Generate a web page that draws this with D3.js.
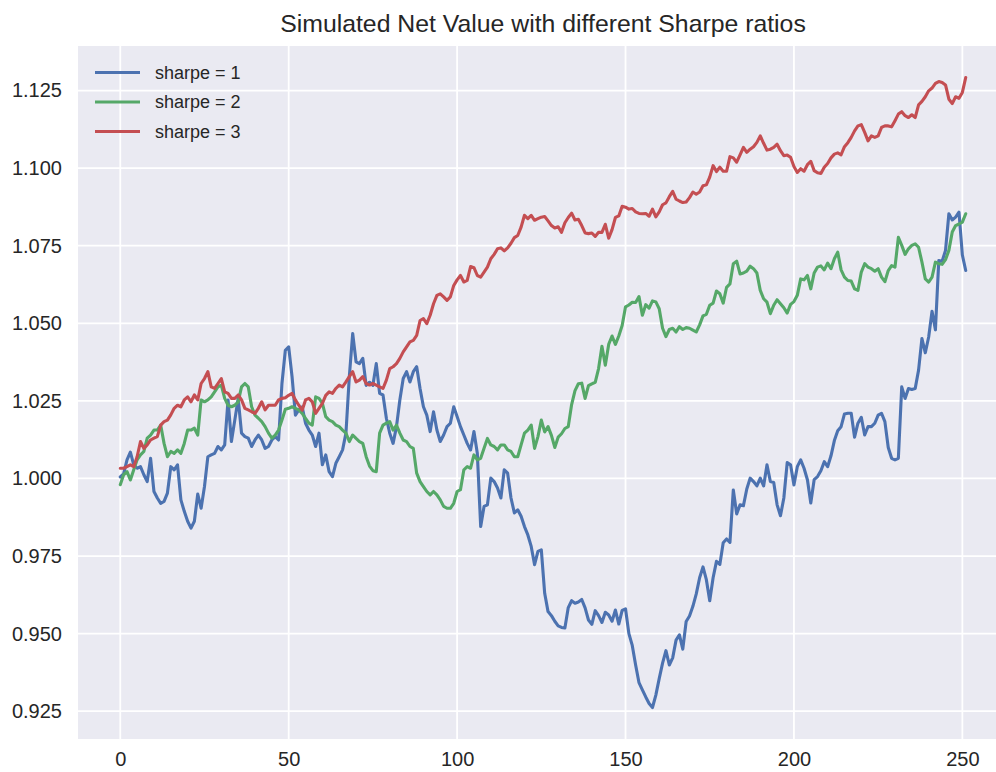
<!DOCTYPE html>
<html>
<head>
<meta charset="utf-8">
<script src="https://cdn.jsdelivr.net/npm/d3@7"></script>
<style>
  body { margin: 0; background: #fff; }
  text { font-family: 'Liberation Sans', Arial, sans-serif; fill: #262626; }
</style>
</head>
<body>
<div id="chart"></div>
<script>
// net value paths (index 0..251)
let sharpe1 = [
  1.0005, 1.0015, 1.0060, 1.0085, 1.0044, 1.0033, 1.0038, 1.0012, 0.9990, 1.0065,
  0.9958, 0.9937, 0.9920, 0.9926, 0.9953, 1.0038, 1.0028, 1.0044, 0.9931, 0.9894,
  0.9862, 0.9840, 0.9862, 0.9950, 0.9904, 0.9974, 1.0070, 1.0076, 1.0081, 1.0103,
  1.0092, 1.0108, 1.0253, 1.0119, 1.0188, 1.0258, 1.0146, 1.0135, 1.0130, 1.0103,
  1.0124, 1.0140, 1.0124, 1.0097, 1.0103, 1.0124, 1.0135, 1.0124, 1.0306, 1.0413,
  1.0424, 1.0328, 1.0204, 1.0221, 1.0231, 1.0178, 1.0156, 1.0140, 1.0103, 1.0146,
  1.0044, 1.0076, 1.0022, 1.0006, 1.0049, 1.0070, 1.0092, 1.0146, 1.0328, 1.0467,
  1.0376, 1.0370, 1.0387, 1.0300, 1.0310, 1.0300, 1.0370, 1.0274, 1.0269, 1.0194,
  1.0146, 1.0113, 1.0167, 1.0253, 1.0322, 1.0344, 1.0311, 1.0344, 1.0360, 1.0290,
  1.0231, 1.0204, 1.0151, 1.0215, 1.0156, 1.0119, 1.0140, 1.0167, 1.0178, 1.0231,
  1.0200, 1.0167, 1.0140, 1.0113, 1.0092, 1.0151, 1.0081, 0.9845, 0.9910, 0.9915,
  1.0001, 0.9990, 0.9969, 0.9937, 1.0028, 1.0017, 0.9937, 0.9889, 0.9899, 0.9878,
  0.9845, 0.9818, 0.9781, 0.9722, 0.9765, 0.9770, 0.9630, 0.9571, 0.9558, 0.9540,
  0.9525, 0.9520, 0.9518, 0.9584, 0.9606, 0.9598, 0.9602, 0.9610, 0.9583, 0.9544,
  0.9530, 0.9574, 0.9558, 0.9536, 0.9569, 0.9560, 0.9540, 0.9576, 0.9531, 0.9575,
  0.9580, 0.9500, 0.9462, 0.9399, 0.9342, 0.9319, 0.9296, 0.9275, 0.9262, 0.9302,
  0.9355, 0.9405, 0.9445, 0.9399, 0.9422, 0.9479, 0.9496, 0.9450, 0.9539, 0.9557,
  0.9588, 0.9628, 0.9680, 0.9715, 0.9674, 0.9606, 0.9680, 0.9733, 0.9723, 0.9793,
  0.9805, 0.9794, 0.9963, 0.9886, 0.9915, 0.9912, 0.9966, 1.0001, 0.9990, 0.9976,
  1.0001, 0.9976, 1.0044, 0.9990, 0.9987, 0.9915, 0.9880, 0.9937, 1.0051, 1.0044,
  0.9979, 1.0038, 1.0060, 1.0033, 0.9996, 0.9921, 0.9996, 1.0006, 1.0025, 1.0054,
  1.0038, 1.0073, 1.0122, 1.0154, 1.0167, 1.0208, 1.0210, 1.0210, 1.0133, 1.0178,
  1.0197, 1.0140, 1.0167, 1.0167, 1.0178, 1.0204, 1.0210, 1.0183, 1.0100, 1.0065,
  1.0060, 1.0065, 1.0295, 1.0258, 1.0290, 1.0287, 1.0290, 1.0349, 1.0451, 1.0405,
  1.0456, 1.0539, 1.0479, 1.0702, 1.0700, 1.0735, 1.0853, 1.0833, 1.0842, 1.0858,
  1.0720, 1.0670
]

let sharpe2 = [
  0.9980, 1.0012, 1.0022, 0.9995, 1.0028, 1.0060, 1.0076, 1.0087, 1.0130, 1.0140,
  1.0156, 1.0156, 1.0172, 1.0113, 1.0070, 1.0087, 1.0081, 1.0092, 1.0081, 1.0113,
  1.0156, 1.0156, 1.0162, 1.0140, 1.0253, 1.0247, 1.0253, 1.0263, 1.0279, 1.0295,
  1.0301, 1.0258, 1.0236, 1.0231, 1.0236, 1.0247, 1.0295, 1.0306, 1.0295, 1.0231,
  1.0204, 1.0194, 1.0183, 1.0167, 1.0146, 1.0130, 1.0140, 1.0156, 1.0188, 1.0223,
  1.0226, 1.0231, 1.0226, 1.0221, 1.0210, 1.0194, 1.0178, 1.0172, 1.0263, 1.0258,
  1.0242, 1.0199, 1.0188, 1.0183, 1.0172, 1.0167, 1.0156, 1.0146, 1.0119, 1.0140,
  1.0129, 1.0119, 1.0113, 1.0070, 1.0040, 1.0025, 1.0022, 1.0146, 1.0172, 1.0178,
  1.0183, 1.0156, 1.0172, 1.0146, 1.0124, 1.0119, 1.0103, 1.0097, 1.0017, 0.9990,
  0.9974, 0.9958, 0.9947, 0.9958, 0.9947, 0.9931, 0.9910, 0.9904, 0.9904, 0.9920,
  0.9958, 0.9964, 1.0028, 1.0038, 1.0033, 1.0076, 1.0060, 1.0065, 1.0097, 1.0129,
  1.0108, 1.0103, 1.0092, 1.0108, 1.0108, 1.0092, 1.0087, 1.0070, 1.0070, 1.0108,
  1.0146, 1.0156, 1.0172, 1.0097, 1.0135, 1.0188, 1.0150, 1.0167, 1.0139, 1.0100,
  1.0133, 1.0144, 1.0161, 1.0167, 1.0238, 1.0283, 1.0305, 1.0307, 1.0258, 1.0299,
  1.0305, 1.0310, 1.0354, 1.0426, 1.0365, 1.0432, 1.0459, 1.0432, 1.0459, 1.0493,
  1.0553, 1.0559, 1.0568, 1.0567, 1.0586, 1.0526, 1.0560, 1.0549, 1.0572, 1.0569,
  1.0547, 1.0484, 1.0457, 1.0480, 1.0484, 1.0472, 1.0489, 1.0480, 1.0486, 1.0484,
  1.0478, 1.0472, 1.0495, 1.0524, 1.0529, 1.0558, 1.0565, 1.0604, 1.0595, 1.0565,
  1.0616, 1.0627, 1.0692, 1.0700, 1.0659, 1.0662, 1.0668, 1.0684, 1.0676, 1.0662,
  1.0606, 1.0579, 1.0568, 1.0531, 1.0558, 1.0576, 1.0563, 1.0550, 1.0533, 1.0561,
  1.0570, 1.0590, 1.0643, 1.0640, 1.0654, 1.0611, 1.0662, 1.0681, 1.0685, 1.0672,
  1.0694, 1.0676, 1.0708, 1.0729, 1.0672, 1.0649, 1.0638, 1.0636, 1.0611, 1.0606,
  1.0665, 1.0692, 1.0681, 1.0676, 1.0668, 1.0676, 1.0649, 1.0634, 1.0670, 1.0686,
  1.0681, 1.0777, 1.0751, 1.0722, 1.0740, 1.0751, 1.0756, 1.0745, 1.0697, 1.0643,
  1.0633, 1.0649, 1.0697, 1.0692, 1.0690, 1.0705, 1.0735, 1.0794, 1.0815, 1.0820,
  1.0826, 1.0853
]

let sharpe3 = [
  1.0033, 1.0033, 1.0038, 1.0044, 1.0038, 1.0070, 1.0119, 1.0097, 1.0108, 1.0124,
  1.0130, 1.0135, 1.0172, 1.0183, 1.0188, 1.0205, 1.0226, 1.0236, 1.0231, 1.0253,
  1.0263, 1.0247, 1.0269, 1.0253, 1.0306, 1.0322, 1.0344, 1.0295, 1.0290, 1.0306,
  1.0322, 1.0279, 1.0274, 1.0258, 1.0258, 1.0269, 1.0253, 1.0226, 1.0221, 1.0215,
  1.0210, 1.0226, 1.0247, 1.0221, 1.0236, 1.0236, 1.0236, 1.0253, 1.0258, 1.0260,
  1.0268, 1.0274, 1.0253, 1.0236, 1.0220, 1.0253, 1.0258, 1.0247, 1.0210, 1.0226,
  1.0242, 1.0268, 1.0279, 1.0274, 1.0290, 1.0301, 1.0295, 1.0311, 1.0328, 1.0344,
  1.0311, 1.0317, 1.0328, 1.0306, 1.0301, 1.0306, 1.0301, 1.0295, 1.0290, 1.0317,
  1.0354, 1.0360, 1.0370, 1.0387, 1.0408, 1.0424, 1.0440, 1.0445, 1.0461, 1.0509,
  1.0515, 1.0499, 1.0526, 1.0563, 1.0590, 1.0595, 1.0585, 1.0574, 1.0585, 1.0622,
  1.0640, 1.0654, 1.0633, 1.0638, 1.0683, 1.0679, 1.0654, 1.0649, 1.0665, 1.0681,
  1.0708, 1.0722, 1.0740, 1.0743, 1.0733, 1.0743, 1.0758, 1.0776, 1.0783, 1.0810,
  1.0848, 1.0837, 1.0848, 1.0832, 1.0837, 1.0842, 1.0844, 1.0830, 1.0815, 1.0807,
  1.0811, 1.0793, 1.0824, 1.0841, 1.0855, 1.0833, 1.0835, 1.0815, 1.0791, 1.0789,
  1.0791, 1.0780, 1.0793, 1.0793, 1.0819, 1.0774, 1.0802, 1.0841, 1.0846, 1.0877,
  1.0874, 1.0868, 1.0870, 1.0859, 1.0854, 1.0853, 1.0854, 1.0845, 1.0868, 1.0843,
  1.0859, 1.0882, 1.0888, 1.0908, 1.0925, 1.0900, 1.0894, 1.0889, 1.0891, 1.0905,
  1.0923, 1.0916, 1.0923, 1.0943, 1.0946, 1.0971, 1.1008, 1.0989, 1.1003, 1.0990,
  1.0990, 1.1037, 1.1033, 1.1019, 1.1043, 1.1067, 1.1051, 1.1061, 1.1069, 1.1083,
  1.1104, 1.1080, 1.1058, 1.1061, 1.1067, 1.1077, 1.1056, 1.1040, 1.1042, 1.1035,
  1.1005, 1.0986, 1.0998, 1.0990, 1.1011, 1.1022, 1.0992, 1.0985, 1.0983, 1.1003,
  1.1015, 1.1033, 1.1045, 1.1049, 1.1043, 1.1069, 1.1082, 1.1099, 1.1120, 1.1136,
  1.1140, 1.1115, 1.1088, 1.1104, 1.1099, 1.1104, 1.1131, 1.1136, 1.1136, 1.1133,
  1.1153, 1.1174, 1.1182, 1.1169, 1.1163, 1.1172, 1.1163, 1.1204, 1.1215, 1.1230,
  1.1249, 1.1258, 1.1273, 1.1279, 1.1276, 1.1268, 1.1222, 1.1208, 1.1230, 1.1225,
  1.1244, 1.1292
]

let seriesNames = ['sharpe = 1', 'sharpe = 2', 'sharpe = 3']
let seriesColors = ['#4C72B0', '#55A868', '#C44E52']
let xTicks = [0, 50, 100, 150, 200, 250]
let yTicks = [0.925, 0.95, 0.975, 1.0, 1.025, 1.05, 1.075, 1.1, 1.125]
let title = 'Simulated Net Value with different Sharpe ratios'

let margin = { top: 46, left: 78, right: 0, bottom: 33 }
let width = 930
let height = 772 - margin.top - margin.bottom

let svg = d3
  .select('#chart')
  .append('svg')
  .attr('width', 996)
  .attr('height', 772)
  .style('display', 'block')
  .append('g')
  .attr('transform', 'translate(' + margin.left + ',' + margin.top + ')')

let series = [sharpe1, sharpe2, sharpe3].map((values, i) => {
  return { name: seriesNames[i], color: seriesColors[i], values: values }
})

// matplotlib style limits: data range plus 5% each side
let n = sharpe1.length
let allValues = d3.merge([sharpe1, sharpe2, sharpe3])
let yExtent = d3.extent(allValues)
let yPad = (yExtent[1] - yExtent[0]) * 0.05
let xPad = (n - 1) * 0.05

let xPositionScale = d3
  .scaleLinear()
  .domain([-xPad, n - 1 + xPad])
  .range([0, width])
let yPositionScale = d3
  .scaleLinear()
  .domain([yExtent[0] - yPad, yExtent[1] + yPad])
  .range([height, 0])

svg
  .append('rect')
  .attr('width', width)
  .attr('height', height)
  .attr('fill', '#EAEAF2')

// grid
svg
  .append('g')
  .attr('class', 'grid')
  .selectAll('line.h')
  .data(yTicks)
  .enter()
  .append('line')
  .attr('x1', 0)
  .attr('x2', width)
  .attr('y1', d => yPositionScale(d))
  .attr('y2', d => yPositionScale(d))
  .attr('stroke', 'white')
  .attr('stroke-width', 1.8)

svg
  .select('.grid')
  .selectAll('line.v')
  .data(xTicks)
  .enter()
  .append('line')
  .attr('y1', 0)
  .attr('y2', height)
  .attr('x1', d => xPositionScale(d))
  .attr('x2', d => xPositionScale(d))
  .attr('stroke', 'white')
  .attr('stroke-width', 1.8)

let line = d3
  .line()
  .x((d, i) => xPositionScale(i))
  .y(d => yPositionScale(d))

svg
  .selectAll('path.lines')
  .data(series)
  .enter()
  .append('path')
  .attr('class', 'lines')
  .attr('d', d => line(d.values))
  .attr('fill', 'none')
  .attr('stroke', d => d.color)
  .attr('stroke-width', 3.1)
  .attr('stroke-linejoin', 'round')
  .attr('stroke-linecap', 'round')

// axes, no tick marks (darkgrid)
let xAxis = d3
  .axisBottom(xPositionScale)
  .tickValues(xTicks)
  .tickSize(0)
  .tickPadding(13)
svg
  .append('g')
  .attr('class', 'axis x-axis')
  .attr('transform', 'translate(0,' + height + ')')
  .call(xAxis)

let yAxis = d3
  .axisLeft(yPositionScale)
  .tickValues(yTicks)
  .tickFormat(d3.format('.3f'))
  .tickSize(0)
  .tickPadding(16)
svg
  .append('g')
  .attr('class', 'axis y-axis')
  .call(yAxis)

svg.selectAll('.axis .domain').remove()
svg
  .selectAll('.axis text')
  .attr('font-size', 20)
  .attr('font-family', "'Liberation Sans', Arial, sans-serif")
  .attr('fill', '#262626')

svg
  .append('text')
  .attr('x', width / 2)
  .attr('y', -14)
  .attr('text-anchor', 'middle')
  .attr('font-size', 24.8)
  .text(title)

// legend, upper left, no frame
let legend = svg
  .selectAll('.legend')
  .data(series)
  .enter()
  .append('g')
  .attr('class', 'legend')
  .attr('transform', (d, i) => 'translate(17,' + (26.5 + i * 29.5) + ')')

legend
  .append('line')
  .attr('x1', 0)
  .attr('x2', 45)
  .attr('stroke', d => d.color)
  .attr('stroke-width', 3.1)

legend
  .append('text')
  .attr('x', 60)
  .attr('dy', '0.35em')
  .attr('font-size', 18)
  .text(d => d.name)
</script>
</body>
</html>
